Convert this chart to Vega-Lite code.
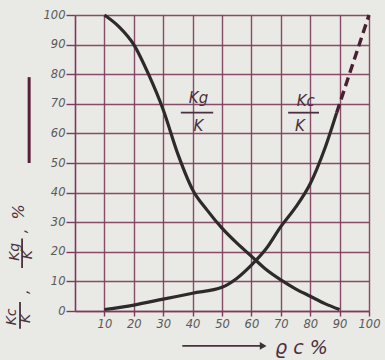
{
  "$schema": "https://vega.github.io/schema/vega-lite/v6.json",
  "width": 294,
  "height": 296,
  "autosize": {"type": "none"},
  "padding": {"left": 75, "top": 15, "right": 16, "bottom": 49},
  "background": "#e9e9e5",
  "config": {
    "view": {"stroke": null},
    "axis": {
      "gridColor": "#7d3a5a",
      "gridWidth": 1.4,
      "gridOpacity": 0.9,
      "domainColor": "#7d3a5a",
      "domainWidth": 1.6,
      "tickColor": "#7d3a5a",
      "tickWidth": 1.4,
      "labelFont": "DejaVu Sans",
      "labelFontStyle": "italic",
      "labelColor": "#5a5a5a",
      "labelFontSize": 11.5,
      "labelOverlap": false,
      "labelFlush": false,
      "title": null
    }
  },
  "datasets": {
    "kg": [
      {"x": 10, "y": 100}, {"x": 15, "y": 96}, {"x": 20, "y": 90}, {"x": 25, "y": 80},
      {"x": 30, "y": 68}, {"x": 35, "y": 53}, {"x": 40, "y": 41}, {"x": 45, "y": 34},
      {"x": 50, "y": 28}, {"x": 55, "y": 23}, {"x": 60, "y": 18.5}, {"x": 65, "y": 14},
      {"x": 70, "y": 10.5}, {"x": 75, "y": 7.5}, {"x": 80, "y": 5}, {"x": 85, "y": 2.5},
      {"x": 90, "y": 0.5}
    ],
    "kc": [
      {"x": 10, "y": 0.5}, {"x": 20, "y": 2}, {"x": 30, "y": 4}, {"x": 40, "y": 6},
      {"x": 50, "y": 8}, {"x": 55, "y": 11}, {"x": 60, "y": 15.5}, {"x": 65, "y": 21},
      {"x": 70, "y": 28.5}, {"x": 75, "y": 35}, {"x": 80, "y": 43}, {"x": 85, "y": 55},
      {"x": 89, "y": 67}
    ],
    "kcdash": [
      {"x": 89, "y": 67}, {"x": 94, "y": 82}, {"x": 100, "y": 100}
    ],
    "labels": [
      {"x": 42, "y": 72, "t": "Kg", "a": 0, "s": 15},
      {"x": 42, "y": 62.5, "t": "K", "a": 0, "s": 15},
      {"x": 78.5, "y": 71, "t": "Kc", "a": 0, "s": 15},
      {"x": 76.5, "y": 62.5, "t": "K", "a": 0, "s": 15},
      {"x": 77, "y": -12.5, "t": "ϱ c %", "a": 0, "s": 19},
      {"x": -21.5, "y": -2, "t": "Kc", "a": 270, "s": 14},
      {"x": -16.8, "y": -2.5, "t": "K", "a": 270, "s": 14},
      {"x": -17.5, "y": 6.5, "t": ",", "a": 270, "s": 14},
      {"x": -20.5, "y": 20, "t": "Kg", "a": 270, "s": 14},
      {"x": -16, "y": 19, "t": "K", "a": 270, "s": 14},
      {"x": -18, "y": 27, "t": ",", "a": 270, "s": 14},
      {"x": -19, "y": 33.5, "t": "%", "a": 270, "s": 16}
    ],
    "bars": [
      {"x": 36, "x2": 47, "y": 67, "y2": 67},
      {"x": 72.5, "x2": 83, "y": 67, "y2": 67},
      {"x": 36.5, "x2": 63.5, "y": -11.8, "y2": -11.8},
      {"x": -18.7, "x2": -18.7, "y": 3, "y2": -6},
      {"x": -18, "x2": -18, "y": 24.5, "y2": 14.5}
    ],
    "arrow": [
      {"x": -15.6, "x2": -15.6, "y": 50, "y2": 79}
    ]
  },
  "layer": [
    {
      "data": {"name": "kg"},
      "mark": {"type": "line", "interpolate": "monotone", "color": "#2e2a2c", "strokeWidth": 3.2, "clip": false},
      "encoding": {
        "x": {
          "field": "x", "type": "quantitative",
          "scale": {"domain": [0, 100], "nice": false},
          "axis": {"values": [10, 20, 30, 40, 50, 60, 70, 80, 90, 100], "tickCount": 11, "tickSize": 5, "labelPadding": 2}
        },
        "y": {
          "field": "y", "type": "quantitative",
          "scale": {"domain": [0, 100], "nice": false},
          "axis": {"values": [0, 10, 20, 30, 40, 50, 60, 70, 80, 90, 100], "tickCount": 11, "tickSize": 9, "labelPadding": 1}
        }
      }
    },
    {
      "data": {"name": "kc"},
      "mark": {"type": "line", "interpolate": "monotone", "color": "#2e2a2c", "strokeWidth": 3.2, "clip": false},
      "encoding": {
        "x": {"field": "x", "type": "quantitative"},
        "y": {"field": "y", "type": "quantitative"}
      }
    },
    {
      "data": {"name": "kcdash"},
      "mark": {"type": "line", "interpolate": "monotone", "color": "#4a1f33", "strokeWidth": 3.4, "strokeDash": [9, 5], "clip": false},
      "encoding": {
        "x": {"field": "x", "type": "quantitative"},
        "y": {"field": "y", "type": "quantitative"}
      }
    },
    {
      "data": {"name": "bars"},
      "mark": {"type": "rule", "color": "#4a3040", "strokeWidth": 1.8, "clip": false},
      "encoding": {
        "x": {"field": "x", "type": "quantitative"},
        "x2": {"field": "x2"},
        "y": {"field": "y", "type": "quantitative"},
        "y2": {"field": "y2"}
      }
    },
    {
      "data": {"name": "arrow"},
      "mark": {"type": "rule", "color": "#5a1f3a", "strokeWidth": 3, "clip": false},
      "encoding": {
        "x": {"field": "x", "type": "quantitative"},
        "x2": {"field": "x2"},
        "y": {"field": "y", "type": "quantitative"},
        "y2": {"field": "y2"}
      }
    },
    {
      "data": {"values": [{"x": 64, "y": -11.8}]},
      "mark": {"type": "point", "shape": "triangle-right", "filled": true, "color": "#3a3036", "size": 60, "opacity": 1, "clip": false},
      "encoding": {
        "x": {"field": "x", "type": "quantitative"},
        "y": {"field": "y", "type": "quantitative"}
      }
    },
    {
      "data": {"name": "labels"},
      "mark": {"type": "text", "font": "DejaVu Sans", "fontStyle": "italic", "color": "#4a3040", "baseline": "middle", "align": "center", "clip": false},
      "encoding": {
        "x": {"field": "x", "type": "quantitative"},
        "y": {"field": "y", "type": "quantitative"},
        "text": {"field": "t"},
        "angle": {"field": "a", "type": "quantitative", "scale": null},
        "size": {"field": "s", "type": "quantitative", "scale": null}
      }
    }
  ]
}
